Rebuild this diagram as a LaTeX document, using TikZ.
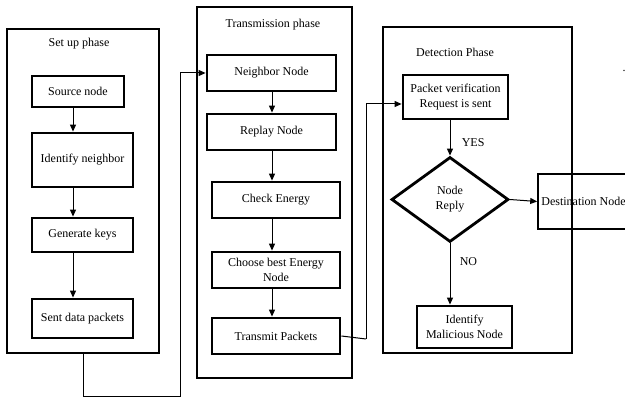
\documentclass[tikz,border=0pt]{standalone}
\usepackage{fontspec}
\setmainfont{Liberation Serif}
\usetikzlibrary{arrows.meta,shapes.geometric}
\tikzset{
    phase/.style={draw, line width=1.8pt, inner sep=0pt},
    stepbox/.style={draw, line width=2.8pt, inner sep=2pt, align=center},
    title/.style={inner sep=1pt},
    arr/.style={-{Triangle[length=7pt,width=6pt]}, line width=1pt},
}
\begin{document}
\begin{tikzpicture}[x=1pt,y=-1pt,font=\rmfamily\fontsize{12}{15}\selectfont]
    \useasboundingbox (0,0) rectangle (625,403);
    % the three phases
    \node[phase, minimum width=152pt, minimum height=324pt] (setup) at (83,191) {};
    \node[phase, minimum width=155pt, minimum height=371pt] (trans) at (274.5,192.5) {};
    \node[phase, minimum width=189pt, minimum height=326pt] (detect) at (477.5,190) {};
    \node[title] (tsetup) at (79,44) {Set up phase};
    \node[title] (ttrans) at (273,25) {Transmission phase};
    \node[title] (tdetect) at (455,52) {Detection Phase};
    % set up phase
    \node[stepbox, minimum width=92pt, minimum height=31pt] (src) at (78,91.5) {Source node};
    \node[stepbox, minimum width=101pt, minimum height=54pt] (idn) at (82.5,160) {Identify neighbor};
    \node[stepbox, minimum width=101pt, minimum height=34pt] (gen) at (82.5,235) {Generate keys};
    \node[stepbox, minimum width=101pt, minimum height=39pt] (sent) at (82.5,318.5) {Sent data packets};
    \coordinate (axA) at (73,0);
    \draw[arr] (src.south -| axA) -- (idn.north -| axA);
    \draw[arr] (idn.south -| axA) -- (gen.north -| axA);
    \draw[arr] (gen.south -| axA) -- (sent.north -| axA);
    % transmission phase
    \node[stepbox, minimum width=129pt, minimum height=36pt] (nbr) at (271.5,73) {Neighbor Node};
    \node[stepbox, minimum width=129pt, minimum height=36pt] (rpl) at (271.5,132) {Replay Node};
    \node[stepbox, minimum width=128pt, minimum height=36pt] (chk) at (276,200) {Check Energy};
    \node[stepbox, minimum width=128pt, minimum height=36pt] (best) at (276,270) {Choose best Energy\\Node};
    \node[stepbox, minimum width=128pt, minimum height=36pt] (tx) at (276,336) {Transmit Packets};
    \coordinate (axB) at (272,0);
    \draw[arr] (nbr.south -| axB) -- (rpl.north -| axB);
    \draw[arr] (rpl.south -| axB) -- (chk.north -| axB);
    \draw[arr] (chk.south -| axB) -- (best.north -| axB);
    \draw[arr] (best.south -| axB) -- (tx.north -| axB);
    % detection phase
    \node[stepbox, minimum width=105pt, minimum height=44pt] (ver) at (455.5,97) {Packet verification\\Request is sent};
    \node[draw, diamond, line width=2.8pt, inner sep=0pt, align=center,
          minimum width=117pt, minimum height=85pt] (rep) at (450,199.5) {Node\\Reply};
    \node[stepbox, minimum width=95pt, minimum height=42pt] (mal) at (464.5,327) {Identify\\Malicious Node};
    \node[draw, line width=1.6pt, inner sep=2pt, minimum width=91pt, minimum height=55pt] (dst) at (583.5,201.5) {Destination Node};
    \draw[arr] (ver.south -| rep.north) -- (rep.north) node[pos=0.62, right=8pt] (yes) {YES};
    \draw[arr] (rep.south) -- (rep.south |- mal.north) node[pos=0.3, right=6pt] (no) {NO};
    \draw[arr] (rep.east) -- (dst.west);
    \node[title] (dot) at (624,71) {.};
    % links between the phases
    \coordinate (c1) at (180,397);
    \coordinate (c2) at (366,339);
    \draw[line width=1pt] (setup.south) |- (c1);
    \draw[arr] (c1) |- (nbr.west);
    \draw[line width=1pt] (tx.east) -- (c2);
    \draw[arr] (c2) |- ([yshift=-7pt]ver.west);
\end{tikzpicture}
\end{document}
